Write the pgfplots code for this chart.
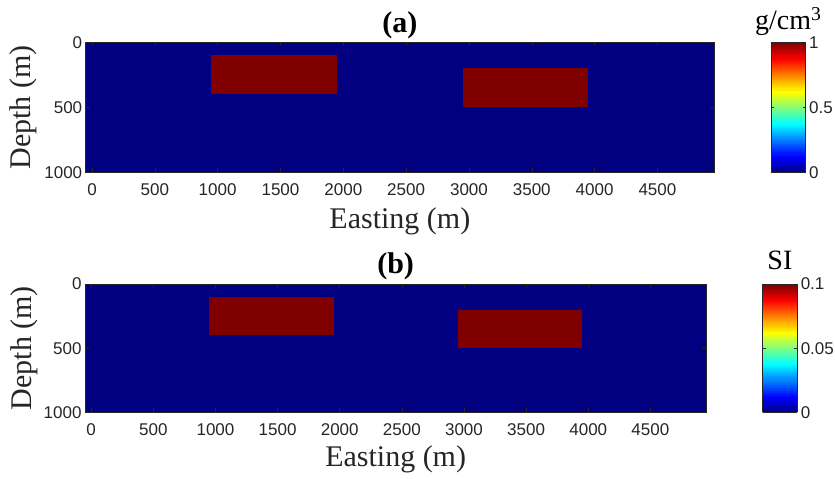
\documentclass[border=0pt]{standalone}
\usepackage{pgfplots}
\pgfplotsset{compat=1.18}
\usepackage{fontspec}
\setmainfont{Liberation Serif}
\newfontfamily\arialfont{Liberation Sans}
\definecolor{jetlo}{RGB}{0,0,128}
\definecolor{jethi}{RGB}{128,0,0}
\definecolor{axgray}{rgb}{0.15,0.15,0.15}

\pgfplotsset{
  colormap/jet,
  myaxis/.style={
    scale only axis,
    xmin=-50, xmax=4950, ymin=0, ymax=1000,
    y dir=reverse,
    xtick={0,500,...,4500}, ytick={0,500,1000},
    axis on top,
    tick align=inside,
    major tick length=4pt,
    every tick/.style={axgray, line width=0.5pt},
    axis line style={axgray, line width=0.6pt},
    tick label style={font=\arialfont\fontsize{17}{17}\selectfont, text=axgray},
    xticklabel style={yshift=-8pt},
    /pgf/number format/assume math mode=true,
    /pgf/number format/1000 sep={},
    label style={font=\fontsize{30}{30}\selectfont, text=axgray},
    title style={font=\bfseries\fontsize{30}{30}\selectfont, text=black},
    xlabel={Easting (m)}, ylabel={Depth (m)},
    colorbar sampled,
  },
  mycb/.style={
    at={(parent axis.north east)}, anchor=north west,
    scale only axis, y dir=normal,
    samples=64,
    xlabel={}, ylabel={},
    tick align=inside, major tick length=3pt,
    every tick/.style={axgray, line width=0.5pt},
    axis line style={axgray, line width=0.6pt},
    yticklabel style={font=\arialfont\fontsize{17}{17}\selectfont, text=axgray},
    title style={at={(0.5,1)}, anchor=base, font=\mdseries\fontsize{28}{28}\selectfont, text=black},
  },
}

\begin{document}
\begin{tikzpicture}
\useasboundingbox (0pt,0pt) rectangle (835pt,479pt);
% ---------------- panel (a)
\begin{axis}[myaxis, at={(85.7pt,306.7pt)}, anchor=south west,
  width=628.3pt, height=130pt,
  title={(a)}, title style={at={(axis description cs:0.5,1)}, anchor=center, yshift=11.5pt},
  xlabel style={at={(axis description cs:0.5,0)}, anchor=base, yshift=-56.7pt},
  ylabel style={at={(axis description cs:-0.0987,0.5)}, anchor=center},
  point meta min=0, point meta max=1,
  colorbar style={mycb, xshift=48.3pt, width=34.7pt, height=130pt,
    ytick={0,0.5,1}, yticklabels={0,0.5,1},
    title={g/cm\textsuperscript{3}}, title style={yshift=7pt}},
]
\addplot[fill=jetlo, draw=none] coordinates {(-50,0) (4950,0) (4950,1000) (-50,1000)} -- cycle;
\addplot[fill=jethi, draw=none] coordinates {(950,100) (1950,100) (1950,400) (950,400)} -- cycle;
\addplot[fill=jethi, draw=none] coordinates {(2950,200) (3950,200) (3950,500) (2950,500)} -- cycle;
\end{axis}
% ---------------- panel (b)
\begin{axis}[myaxis, at={(85pt,66.7pt)}, anchor=south west,
  width=621.3pt, height=128.3pt,
  title={(b)}, title style={at={(axis description cs:0.5,1)}, anchor=center, yshift=12pt},
  xlabel style={at={(axis description cs:0.5,0)}, anchor=base, yshift=-54.4pt},
  ylabel style={at={(axis description cs:-0.0979,0.5)}, anchor=center},
  point meta min=0, point meta max=0.1,
  colorbar style={mycb, xshift=47.7pt, width=34.7pt, height=128.3pt,
    ytick={0,0.05,0.1}, yticklabels={0,0.05,0.1},
    title={SI}, title style={yshift=8.5pt}},
]
\addplot[fill=jetlo, draw=none] coordinates {(-50,0) (4950,0) (4950,1000) (-50,1000)} -- cycle;
\addplot[fill=jethi, draw=none] coordinates {(950,100) (1950,100) (1950,400) (950,400)} -- cycle;
\addplot[fill=jethi, draw=none] coordinates {(2950,200) (3950,200) (3950,500) (2950,500)} -- cycle;
\end{axis}
\end{tikzpicture}
\end{document}
